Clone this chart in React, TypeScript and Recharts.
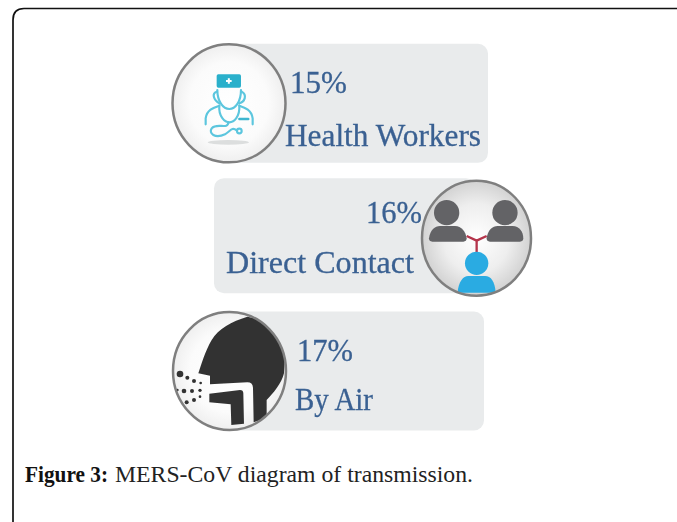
import React from 'react';
import { BarChart, Bar, XAxis, YAxis } from 'recharts';

// MERS-CoV transmission routes
const categories = ['Health Workers', 'Direct Contact', 'By Air'];
const shares = [15, 16, 17];
const chartData = categories.map((category, i) => ({ category, share: shares[i] }));

const TEXT_BLUE = '#3a6192';
const CARD_GREY = '#e9ebec';

// card placement per row, the bars themselves are not proportional in the source figure
const rows = [
  { cardX: 229, cardW: 259, cardH: 119, dy: -0.5, cx: 229, rx: 56.5, ry: 59, pctX: 290, pctY: 93, nameX: 285, nameY: 146, nameW: 196, pctW: 57 },
  { cardX: 214, cardW: 262, cardH: 115, dy: -1.5, cx: 476.5, rx: 54.5, ry: 57.5, pctX: 366, pctY: 223, nameX: 226, nameY: 273, nameW: 188, pctW: 56 },
  { cardX: 229, cardW: 255, cardH: 119, dy: 0.5, cx: 229.5, rx: 56.5, ry: 59, pctX: 297, pctY: 361, nameX: 295, nameY: 410, nameW: 78, pctW: 56 },
];

const DoctorIcon = () => (
  <g transform="translate(160 35) scale(0.3333)">
    <ellipse cx={205} cy={322} rx={62} ry={7} fill="#dcdede" />
    <rect x={170} y={118} width={73} height={40} rx={5} fill="#2bb0cb" />
    <path d="M198 138h17M206.500 129.500v17" stroke="#fff" strokeWidth={6} />
    <g fill="none" stroke="#5cc6de" strokeWidth={6.5} strokeLinecap="round">
      <path d="M172 165C172 200 190 222 208 222C226 222 243 200 243 165" />
      <path d="M170 170C155 175 160 195 178 205M245 170C262 180 255 200 238 205" />
      <path d="M137 268V250C140 225 160 218 178 212M278 268V250C275 225 255 218 238 212" />
      <path d="M178 212C175 245 195 262 208 262C222 262 240 245 238 212" />
      <path d="M205 262C205 285 170 262 155 280C145 295 165 312 195 298C212 288 215 275 230 286" />
      <circle cx={238} cy={288} r={7} />
      <path d="M238 252H265" strokeWidth={7} stroke="#3cb6d0" />
    </g>
  </g>
);

const ContactIcon = () => (
  <g transform="translate(205 170) scale(0.3333)">
    <path d="M785 198L815 212L845 198M815 212V250" fill="none" stroke="#b5344c" strokeWidth={7} />
    <g fill="#636366">
      <circle cx={725} cy={128} r={38} />
      <path d="M672 205C675 180 690 168 705 168H750C770 168 782 185 785 205Q785 215 775 215H682Q672 215 672 205Z" />
      <circle cx={900} cy={128} r={38} />
      <path d="M845 205C848 180 863 168 878 168H923C943 168 955 185 955 205Q955 215 945 215H855Q845 215 845 205Z" />
    </g>
    <g fill="#29abe2">
      <circle cx={815} cy={280} r={35} />
      <path d="M758 368C760 335 775 318 790 318H840C858 318 870 335 872 368Z" />
    </g>
  </g>
);

const AirIcon = () => (
  <g transform="translate(160 305) scale(0.3333)">
    <g fill="#333">
      <path d="M262 35C215 50 175 70 155 105C135 140 125 175 115 205L150 212V238L262 232Q278 232 279 248L281 352L320 338V285C340 265 365 235 372 205L378 120L330 50Z" />
      <path d="M148 266L240 255Q250 255 250 265L252 356L214 360L212 298L148 292Z" />
    </g>
    <g fill="#333">
      <circle cx={60} cy={207} r={10} />
      <circle cx={82} cy={218} r={6} />
      <circle cx={102} cy={228} r={6} />
      <circle cx={122} cy={234} r={4} />
      <circle cx={52} cy={255} r={4} />
      <circle cx={72} cy={258} r={7} />
      <circle cx={96} cy={258} r={6} />
      <circle cx={120} cy={256} r={5} />
      <circle cx={120} cy={275} r={4} />
      <circle cx={102} cy={285} r={6} />
      <circle cx={80} cy={292} r={6} />
    </g>
  </g>
);

const icons = [DoctorIcon, ContactIcon, AirIcon];

const RouteCard = (props: any) => {
  const { y, height, index, payload } = props;
  const row = rows[index];
  const mid = y + height / 2 + row.dy;
  const circleY = index === 1 ? mid + 2.5 : mid;
  const Icon = icons[index];
  const clipId = `circle-clip-${index}`;
  return (
    <g filter="url(#soft)">
      <rect x={row.cardX} y={mid - row.cardH / 2} width={row.cardW} height={row.cardH} rx={10} fill={CARD_GREY} />
      <clipPath id={clipId}>
        <ellipse cx={row.cx} cy={circleY} rx={row.rx} ry={row.ry} />
      </clipPath>
      <ellipse cx={row.cx} cy={circleY} rx={row.rx} ry={row.ry} fill={`url(#disc-${index === 1 ? 'grey' : 'white'})`} />
      <g clipPath={`url(#${clipId})`}>
        <Icon />
      </g>
      <ellipse cx={row.cx} cy={circleY} rx={row.rx} ry={row.ry} fill="none" stroke="#7f7f7f" strokeWidth={2.5} />
      <text x={row.pctX} y={row.pctY} fontFamily="Liberation Serif" fontSize={32} fill={TEXT_BLUE} stroke={TEXT_BLUE} strokeWidth={0.3} textLength={row.pctW} lengthAdjust="spacingAndGlyphs">
        {payload.share}%
      </text>
      <text x={row.nameX} y={row.nameY} fontFamily="Liberation Serif" fontSize={32} fill={TEXT_BLUE} stroke={TEXT_BLUE} strokeWidth={0.3} textLength={row.nameW} lengthAdjust="spacingAndGlyphs">
        {payload.category}
      </text>
    </g>
  );
};

export default function App() {
  return (
    <div style={{ position: 'absolute', left: 0, top: 0, width: 677, height: 522, background: '#fff' }}>
      <BarChart
        width={677}
        height={522}
        data={chartData}
        layout="vertical"
        margin={{ top: 37, right: 0, bottom: 85, left: 0 }}
      >
        <defs>
          <filter id="soft" x="-5%" y="-5%" width="110%" height="110%">
            <feGaussianBlur stdDeviation={0.5} />
          </filter>
          <radialGradient id="disc-white">
            <stop offset="0%" stopColor="#ffffff" />
            <stop offset="70%" stopColor="#fbfbfb" />
            <stop offset="100%" stopColor="#efefef" />
          </radialGradient>
          <radialGradient id="disc-grey">
            <stop offset="0%" stopColor="#ffffff" />
            <stop offset="60%" stopColor="#eeeeee" />
            <stop offset="100%" stopColor="#d2d2d2" />
          </radialGradient>
        </defs>
        <XAxis type="number" hide domain={[0, 20]} />
        <YAxis type="category" dataKey="category" hide />
        <Bar dataKey="share" isAnimationActive={false} shape={RouteCard} />
        <path d="M13 522V20Q13 8.500 24 8.500H677" fill="none" stroke="#111" strokeWidth={1.7} />
        <text x={25} y={482} fontFamily="Liberation Serif" fontSize={23} fontWeight="bold" fill="#111" textLength={83} lengthAdjust="spacingAndGlyphs">
          Figure 3:
        </text>
        <text x={115} y={482} fontFamily="Liberation Serif" fontSize={23} fill="#222" textLength={358} lengthAdjust="spacingAndGlyphs">
          MERS-CoV diagram of transmission.
        </text>
      </BarChart>
    </div>
  );
}
